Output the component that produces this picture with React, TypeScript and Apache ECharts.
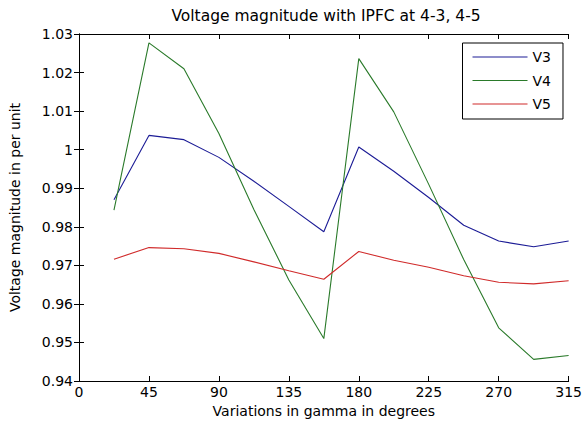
import React, { useEffect, useRef } from "react";
import * as echarts from "echarts";

const gammaDeg = [22.5, 45, 67.5, 90, 112.5, 135, 157.5, 180, 202.5, 225, 247.5, 270, 292.5, 315];
const v3 = [0.987, 1.0037, 1.0026, 0.998, 0.9918, 0.9853, 0.9787, 1.0007, 0.9944, 0.9876, 0.9804, 0.9763, 0.9748, 0.9763];
const v4 = [0.9843, 1.0277, 1.021, 1.0042, 0.9845, 0.9662, 0.951, 1.0236, 1.0098, 0.991, 0.9715, 0.9538, 0.9456, 0.9466];
const v5 = [0.9716, 0.9746, 0.9743, 0.9731, 0.9709, 0.9686, 0.9664, 0.9736, 0.9713, 0.9695, 0.9673, 0.9656, 0.9652, 0.966];
const seriesNames = ["V3", "V4", "V5"];
const seriesColors = ["#1c1c96", "#2a7a2a", "#d02a2a"];

const FONT = "'DejaVu Sans', 'Liberation Sans', sans-serif";

export default function App() {
  const ref = useRef<HTMLDivElement>(null);
  useEffect(() => {
    if (!ref.current) return;
    const chart = echarts.init(ref.current, undefined, { renderer: "svg" });
    const vals = [v3, v4, v5];
    const axisCommon = {
      axisLine: { show: true, lineStyle: { color: "#000", width: 1 } },
      axisTick: { show: true, inside: true, length: 5, lineStyle: { color: "#000" } },
      splitLine: { show: false },
    };
    chart.setOption({
      animation: false,
      backgroundColor: "#fff",
      textStyle: { fontFamily: FONT },
      title: {
        text: "Voltage magnitude with IPFC at 4-3, 4-5",
        left: 321,
        top: 3,
        textAlign: "center",
        textStyle: { fontFamily: FONT, fontSize: 15.5, fontWeight: "normal", color: "#000" },
      },
      grid: { left: 76, right: 15, top: 34, bottom: 47, containLabel: false },
      legend: {
        orient: "vertical",
        right: 22,
        top: 43,
        data: seriesNames,
        icon: "rect",
        backgroundColor: "#fff",
        borderColor: "#000",
        borderWidth: 1,
        borderRadius: 0,
        padding: [7, 12, 8, 10],
        itemWidth: 55,
        itemHeight: 1.2,
        itemGap: 9.5,
        textStyle: { fontFamily: FONT, fontSize: 14, color: "#000" },
      },
      xAxis: [
        {
          type: "value",
          min: 0,
          max: 315,
          interval: 45,
          position: "bottom",
          name: "Variations in gamma in degrees",
          nameLocation: "middle",
          nameGap: 16,
          nameTextStyle: { fontFamily: FONT, fontSize: 14, color: "#000" },
          axisLabel: { fontFamily: FONT, fontSize: 14, color: "#000", margin: 4 },
          ...axisCommon,
        },
        {
          type: "value",
          min: 0,
          max: 315,
          interval: 45,
          position: "top",
          axisLabel: { show: false },
          ...axisCommon,
        },
      ],
      yAxis: [
        {
          type: "value",
          min: 0.94,
          max: 1.03,
          interval: 0.01,
          position: "left",
          name: "Voltage magnitude in per unit",
          nameLocation: "middle",
          nameGap: 57,
          nameTextStyle: { fontFamily: FONT, fontSize: 14, color: "#000" },
          axisLabel: {
            fontFamily: FONT,
            fontSize: 14,
            color: "#000",
            margin: 6,
            formatter: (v: number) => String(parseFloat(v.toFixed(2))),
          },
          ...axisCommon,
        },
        {
          type: "value",
          min: 0.94,
          max: 1.03,
          interval: 0.01,
          position: "right",
          axisLabel: { show: false },
          ...axisCommon,
        },
      ],
      series: seriesNames.map((name, i) => ({
        name,
        type: "line",
        xAxisIndex: 0,
        yAxisIndex: 0,
        symbol: "none",
        color: seriesColors[i],
        lineStyle: { color: seriesColors[i], width: 1.1 },
        data: gammaDeg.map((x, j) => [x, vals[i][j]]),
      })),
    });
    return () => chart.dispose();
  }, []);
  return (
    <div
      ref={ref}
      style={{ position: "fixed", left: 0, top: 0, width: 585, height: 428 }}
    />
  );
}
